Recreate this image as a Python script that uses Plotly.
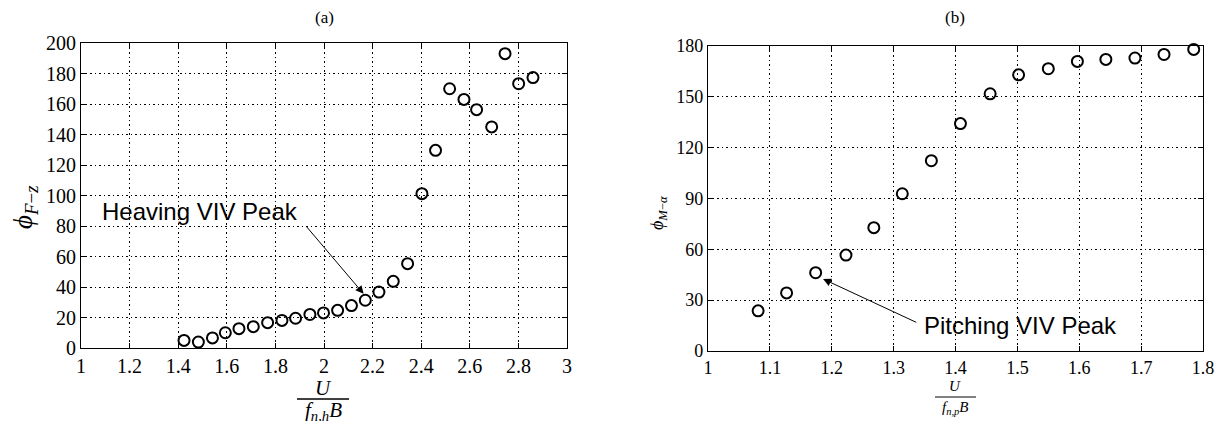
import plotly.graph_objects as go

# ---- data (a) ----
ua = [1.424, 1.483, 1.541, 1.594, 1.650, 1.709, 1.768, 1.827, 1.883, 1.942, 1.998, 2.056, 2.113,
      2.170, 2.226, 2.285, 2.344, 2.403, 2.459, 2.517, 2.576, 2.628, 2.690, 2.745, 2.801, 2.860]
phi_fz = [5.0, 3.9, 6.6, 10.0, 12.7, 14.0, 16.6, 18.1, 19.5, 22.0, 23.0, 24.7, 27.8,
          31.3, 36.7, 43.7, 55.3, 101.2, 129.6, 170.0, 163.0, 156.3, 145.0, 193.0, 173.3, 177.3]

# ---- data (b) ----
ub = [1.081, 1.127, 1.174, 1.223, 1.268, 1.314, 1.361, 1.408, 1.456, 1.502, 1.550, 1.597,
      1.643, 1.690, 1.737, 1.785]
phi_ma = [23.7, 34.3, 46.2, 56.6, 72.8, 92.8, 112.3, 134.2, 151.8, 163.0, 166.6, 170.9,
          172.1, 172.9, 175.0, 178.0]

xa_ticks = [1, 1.2, 1.4, 1.6, 1.8, 2, 2.2, 2.4, 2.6, 2.8, 3]
ya_ticks = [0, 20, 40, 60, 80, 100, 120, 140, 160, 180, 200]
xb_ticks = [1, 1.1, 1.2, 1.3, 1.4, 1.5, 1.6, 1.7, 1.8]
yb_ticks = [0, 30, 60, 90, 120, 150, 180]

W, H = 1226, 421
OFF = 8  # page body margin
SERIF = "Liberation Serif, Times New Roman, serif"
SANS = "Liberation Sans, Arial, sans-serif"

def px(x):
    return (x - OFF) / W

def py(y):
    return 1 - (y - OFF) / H

fig = go.Figure()
marker = dict(symbol="circle-open", size=11, color="black", line=dict(width=2, color="black"))
fig.add_trace(go.Scatter(x=ua, y=phi_fz, mode="markers", marker=marker, xaxis="x", yaxis="y",
                         showlegend=False, cliponaxis=False))
fig.add_trace(go.Scatter(x=ub, y=phi_ma, mode="markers", marker=marker, xaxis="x2", yaxis="y2",
                         showlegend=False, cliponaxis=False))

def axis_style(tickvals, rng, domain, anchor, fontsize):
    return dict(range=rng, domain=domain, anchor=anchor, tickvals=tickvals,
                ticktext=[("%g" % v) for v in tickvals], automargin=False,
                showgrid=True, gridcolor="black", griddash="1.5px,3px", gridwidth=1,
                zeroline=False, showline=True, linecolor="black", linewidth=1.2, mirror="ticks",
                ticks="inside", ticklen=5, tickcolor="black",
                tickfont=dict(family=SERIF, size=fontsize, color="black"))

fig.update_layout(
    width=W, height=H, margin=dict(l=0, r=0, t=0, b=0, pad=0, autoexpand=False),
    paper_bgcolor="white", plot_bgcolor="white",
    xaxis=axis_style(xa_ticks, [1, 3], [px(81), px(567)], "y", 20),
    yaxis=axis_style(ya_ticks, [0, 200], [py(348), py(43)], "x", 20),
    xaxis2=axis_style(xb_ticks, [1, 1.8], [px(708), px(1203)], "y2", 18),
    yaxis2=axis_style(yb_ticks, [0, 180], [py(351), py(46)], "x2", 18),
)

def label(text, x, y, size, angle=0):
    return dict(text=text, x=px(x), y=py(y), xref="paper", yref="paper", showarrow=False,
                xanchor="center", yanchor="middle", textangle=angle,
                font=dict(family=SERIF, size=size, color="black"))

ann = []
ann.append(label("(a)", 324, 18, 17))
ann.append(label("(b)", 955, 18, 17))
ann.append(label("<i>ϕ</i><sub><i>F</i>−<i>z</i></sub>", 25, 207, 27, -90))
ann.append(label("<i>ϕ</i><sub><i>M</i>−<i>α</i></sub>", 658, 213, 18, -90))
ann.append(label("<i>U</i>", 323, 388, 21))
ann.append(label("<i>f</i><sub><i>n,h</i></sub><i>B</i>", 323, 411, 21))
ann.append(label("<i>U</i>", 955, 386, 15))
ann.append(label("<i>f</i><sub><i>n,p</i></sub><i>B</i>", 955, 408, 15))
# callouts
ann.append(dict(text="Heaving VIV Peak", x=1.078, y=89.5, xref="x", yref="y", xanchor="left",
                yanchor="middle", showarrow=False, font=dict(family=SANS, size=24, color="black")))
ann.append(dict(text="", x=2.163, y=35.5, ax=1.922, ay=80.7, xref="x", yref="y", axref="x",
                ayref="y", showarrow=True, arrowhead=2, arrowsize=1.6, arrowwidth=1,
                arrowcolor="black"))
ann.append(dict(text="Pitching VIV Peak", x=1.3457, y=15.3, xref="x2", yref="y2", xanchor="left",
                yanchor="middle", showarrow=False, font=dict(family=SANS, size=24, color="black")))
ann.append(dict(text="", x=1.186, y=42.5, ax=1.339, ay=16.5, xref="x2", yref="y2", axref="x2",
                ayref="y2", showarrow=True, arrowhead=2, arrowsize=1.6, arrowwidth=1,
                arrowcolor="black"))
fig.update_layout(annotations=ann)

fig.add_shape(type="line", xref="paper", yref="paper", x0=px(297), x1=px(349), y0=py(399),
              y1=py(399), line=dict(color="black", width=1.5))
fig.add_shape(type="line", xref="paper", yref="paper", x0=px(935), x1=px(976), y0=py(397),
              y1=py(397), line=dict(color="black", width=1))

fig.write_html("out.html")
